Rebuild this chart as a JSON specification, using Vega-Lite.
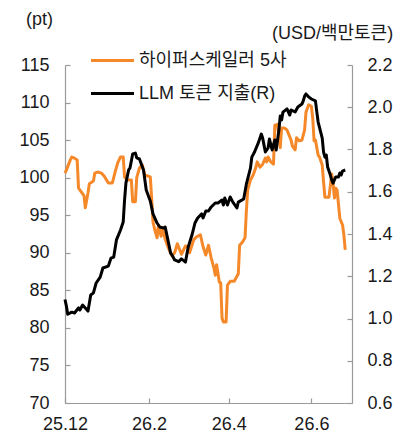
{
  "$schema": "https://vega.github.io/schema/vega-lite/v6.json",
  "width": 287,
  "height": 338,
  "autosize": "none",
  "padding": {"left": 65, "top": 65, "right": 56, "bottom": 33},
  "background": "white",
  "config": {
    "view": {"stroke": null},
    "font": "Liberation Sans, Noto Sans CJK KR",
    "axis": {
      "grid": false,
      "domainColor": "#9a9a9a",
      "tickColor": "#9a9a9a",
      "domainWidth": 1.2,
      "tickWidth": 1.2,
      "tickSize": -5,
      "labelFont": "Liberation Sans, Noto Sans CJK KR",
      "labelFontSize": 18,
      "labelColor": "#1a1a1a",
      "titleFont": "Liberation Sans, Noto Sans CJK KR",
      "titleFontSize": 18,
      "titleFontWeight": "normal",
      "titleColor": "#1a1a1a"
    },
    "legend": {
      "labelFont": "Liberation Sans, Noto Sans CJK KR",
      "labelFontSize": 18,
      "labelColor": "#1a1a1a"
    }
  },
  "datasets": {
    "hyper": [
      {"d":"2025-12-01","v":100.6},{"d":"2025-12-02","v":101.0},{"d":"2025-12-05","v":102.4},{"d":"2025-12-06","v":102.75},
      {"d":"2025-12-08","v":102.6},{"d":"2025-12-10","v":102.35},{"d":"2025-12-11","v":98.6},{"d":"2025-12-13","v":98.1},
      {"d":"2025-12-15","v":97.6},{"d":"2025-12-16","v":96.0},{"d":"2025-12-18","v":98.0},{"d":"2025-12-19","v":99.2},
      {"d":"2025-12-22","v":99.55},{"d":"2025-12-23","v":100.6},{"d":"2025-12-25","v":100.75},{"d":"2025-12-28","v":100.6},
      {"d":"2025-12-30","v":100.2},{"d":"2026-01-02","v":99.3},{"d":"2026-01-05","v":99.3},{"d":"2026-01-07","v":100.75},
      {"d":"2026-01-09","v":102.0},{"d":"2026-01-11","v":102.75},{"d":"2026-01-13","v":102.75},{"d":"2026-01-14","v":100.1},
      {"d":"2026-01-16","v":99.7},{"d":"2026-01-19","v":99.7},{"d":"2026-01-20","v":96.8},{"d":"2026-01-22","v":96.8},
      {"d":"2026-01-23","v":100.0},{"d":"2026-01-25","v":101.3},{"d":"2026-01-27","v":101.7},{"d":"2026-01-29","v":100.35},
      {"d":"2026-02-02","v":100.1},{"d":"2026-02-03","v":97.3},{"d":"2026-02-04","v":94.1},{"d":"2026-02-05","v":93.3},
      {"d":"2026-02-07","v":92.0},{"d":"2026-02-08","v":93.6},{"d":"2026-02-10","v":92.2},{"d":"2026-02-11","v":93.3},
      {"d":"2026-02-13","v":91.8},{"d":"2026-02-15","v":90.8},{"d":"2026-02-18","v":89.6},{"d":"2026-02-20","v":90.0},
      {"d":"2026-02-22","v":91.2},{"d":"2026-02-25","v":89.8},{"d":"2026-02-28","v":90.9},{"d":"2026-03-02","v":90.8},
      {"d":"2026-03-03","v":90.0},{"d":"2026-03-06","v":91.7},{"d":"2026-03-08","v":92.1},{"d":"2026-03-11","v":92.4},
      {"d":"2026-03-13","v":90.8},{"d":"2026-03-15","v":89.7},{"d":"2026-03-17","v":91.0},{"d":"2026-03-19","v":89.3},
      {"d":"2026-03-21","v":88.0},{"d":"2026-03-22","v":87.0},{"d":"2026-03-23","v":88.4},{"d":"2026-03-25","v":86.1},
      {"d":"2026-03-26","v":86.0},{"d":"2026-03-27","v":81.3},{"d":"2026-03-28","v":80.8},{"d":"2026-03-30","v":80.8},
      {"d":"2026-03-31","v":85.7},{"d":"2026-04-02","v":86.2},{"d":"2026-04-05","v":86.2},{"d":"2026-04-08","v":87.2},
      {"d":"2026-04-09","v":91.0},{"d":"2026-04-11","v":91.4},{"d":"2026-04-13","v":92.0},{"d":"2026-04-14","v":95.7},
      {"d":"2026-04-15","v":98.4},{"d":"2026-04-17","v":99.7},{"d":"2026-04-19","v":100.35},{"d":"2026-04-21","v":101.4},
      {"d":"2026-04-22","v":102.1},{"d":"2026-04-24","v":101.4},{"d":"2026-04-26","v":101.8},{"d":"2026-04-28","v":102.6},
      {"d":"2026-04-29","v":102.1},{"d":"2026-04-30","v":102.75},{"d":"2026-05-02","v":102.1},{"d":"2026-05-04","v":101.8},
      {"d":"2026-05-05","v":107.0},{"d":"2026-05-07","v":107.1},{"d":"2026-05-09","v":104.0},{"d":"2026-05-10","v":106.6},
      {"d":"2026-05-12","v":106.6},{"d":"2026-05-14","v":106.35},{"d":"2026-05-17","v":105.0},{"d":"2026-05-18","v":104.2},
      {"d":"2026-05-20","v":103.7},{"d":"2026-05-21","v":105.3},{"d":"2026-05-23","v":104.9},{"d":"2026-05-25","v":105.0},
      {"d":"2026-05-27","v":106.35},{"d":"2026-05-28","v":108.7},{"d":"2026-05-30","v":109.7},{"d":"2026-06-01","v":109.5},
      {"d":"2026-06-02","v":107.9},{"d":"2026-06-03","v":104.9},{"d":"2026-06-04","v":105.0},{"d":"2026-06-06","v":103.0},
      {"d":"2026-06-07","v":102.75},{"d":"2026-06-09","v":101.7},{"d":"2026-06-10","v":99.4},{"d":"2026-06-11","v":97.4},
      {"d":"2026-06-14","v":97.4},{"d":"2026-06-16","v":100.5},{"d":"2026-06-17","v":99.4},{"d":"2026-06-18","v":97.3},
      {"d":"2026-06-19","v":98.6},{"d":"2026-06-20","v":98.35},{"d":"2026-06-22","v":94.6},{"d":"2026-06-24","v":93.7},
      {"d":"2026-06-25","v":92.4},{"d":"2026-06-26","v":90.4}
    ],
    "llm": [
      {"d":"2025-12-01","v":1.09},{"d":"2025-12-02","v":1.06},{"d":"2025-12-03","v":1.02},{"d":"2025-12-06","v":1.03},
      {"d":"2025-12-08","v":1.026},{"d":"2025-12-11","v":1.05},{"d":"2025-12-12","v":1.04},{"d":"2025-12-14","v":1.064},
      {"d":"2025-12-16","v":1.05},{"d":"2025-12-18","v":1.035},{"d":"2025-12-20","v":1.111},{"d":"2025-12-22","v":1.121},
      {"d":"2025-12-24","v":1.168},{"d":"2025-12-27","v":1.196},{"d":"2025-12-29","v":1.239},{"d":"2026-01-02","v":1.248},
      {"d":"2026-01-04","v":1.286},{"d":"2026-01-06","v":1.291},{"d":"2026-01-08","v":1.372},{"d":"2026-01-11","v":1.419},
      {"d":"2026-01-13","v":1.457},{"d":"2026-01-14","v":1.561},{"d":"2026-01-15","v":1.641},{"d":"2026-01-17","v":1.703},
      {"d":"2026-01-18","v":1.712},{"d":"2026-01-20","v":1.779},{"d":"2026-01-22","v":1.783},{"d":"2026-01-23","v":1.76},
      {"d":"2026-01-25","v":1.755},{"d":"2026-01-28","v":1.703},{"d":"2026-01-30","v":1.608},{"d":"2026-02-02","v":1.556},
      {"d":"2026-02-04","v":1.495},{"d":"2026-02-07","v":1.452},{"d":"2026-02-09","v":1.433},{"d":"2026-02-12","v":1.428},
      {"d":"2026-02-13","v":1.433},{"d":"2026-02-15","v":1.372},{"d":"2026-02-17","v":1.31},{"d":"2026-02-18","v":1.301},
      {"d":"2026-02-20","v":1.277},{"d":"2026-02-23","v":1.269},{"d":"2026-02-25","v":1.282},{"d":"2026-02-28","v":1.267},
      {"d":"2026-03-02","v":1.338},{"d":"2026-03-05","v":1.4},{"d":"2026-03-07","v":1.452},{"d":"2026-03-09","v":1.476},
      {"d":"2026-03-12","v":1.495},{"d":"2026-03-13","v":1.476},{"d":"2026-03-15","v":1.509},{"d":"2026-03-17","v":1.509},
      {"d":"2026-03-19","v":1.528},{"d":"2026-03-22","v":1.547},{"d":"2026-03-24","v":1.547},{"d":"2026-03-27","v":1.561},
      {"d":"2026-03-28","v":1.537},{"d":"2026-03-29","v":1.57},{"d":"2026-03-31","v":1.537},{"d":"2026-04-02","v":1.575},
      {"d":"2026-04-04","v":1.551},{"d":"2026-04-07","v":1.523},{"d":"2026-04-08","v":1.551},{"d":"2026-04-12","v":1.566},
      {"d":"2026-04-14","v":1.637},{"d":"2026-04-17","v":1.712},{"d":"2026-04-18","v":1.764},{"d":"2026-04-20","v":1.788},
      {"d":"2026-04-23","v":1.835},{"d":"2026-04-25","v":1.873},{"d":"2026-04-26","v":1.854},{"d":"2026-04-28","v":1.788},
      {"d":"2026-04-30","v":1.807},{"d":"2026-05-01","v":1.85},{"d":"2026-05-03","v":1.798},{"d":"2026-05-05","v":1.845},
      {"d":"2026-05-06","v":1.798},{"d":"2026-05-08","v":1.892},{"d":"2026-05-09","v":1.959},{"d":"2026-05-10","v":1.94},
      {"d":"2026-05-11","v":1.977},{"d":"2026-05-14","v":1.992},{"d":"2026-05-16","v":1.963},{"d":"2026-05-17","v":1.987},
      {"d":"2026-05-20","v":1.978},{"d":"2026-05-22","v":2.001},{"d":"2026-05-25","v":2.015},{"d":"2026-05-26","v":2.03},
      {"d":"2026-05-27","v":2.053},{"d":"2026-05-28","v":2.063},{"d":"2026-05-30","v":2.049},{"d":"2026-06-01","v":2.039},
      {"d":"2026-06-04","v":2.03},{"d":"2026-06-05","v":1.978},{"d":"2026-06-06","v":1.93},{"d":"2026-06-09","v":1.854},
      {"d":"2026-06-10","v":1.788},{"d":"2026-06-11","v":1.764},{"d":"2026-06-12","v":1.774},{"d":"2026-06-13","v":1.717},
      {"d":"2026-06-15","v":1.679},{"d":"2026-06-16","v":1.656},{"d":"2026-06-17","v":1.641},{"d":"2026-06-18","v":1.656},
      {"d":"2026-06-19","v":1.67},{"d":"2026-06-21","v":1.67},{"d":"2026-06-22","v":1.689},{"d":"2026-06-23","v":1.679},
      {"d":"2026-06-24","v":1.698},{"d":"2026-06-26","v":1.703}
    ]
  },
  "layer": [
    {
      "data": {"name": "hyper"},
      "mark": {"type": "line", "strokeWidth": 3, "strokeJoin": "round"},
      "encoding": {
        "x": {
          "field": "d", "type": "temporal",
          "scale": {"type": "utc", "domain": [{"year": 2025, "month": 12, "date": 1, "utc": true}, {"year": 2026, "month": 7, "date": 1, "utc": true}]},
          "axis": {
            "title": null,
            "format": "%y.%-m",
            "values": [
              {"year": 2025, "month": 12, "date": 1, "utc": true},
              {"year": 2026, "month": 2, "date": 1, "utc": true},
              {"year": 2026, "month": 4, "date": 1, "utc": true},
              {"year": 2026, "month": 6, "date": 1, "utc": true}
            ],
            "labelPadding": 17,
            "labelFlush": false,
            "labelOverlap": false
          }
        },
        "y": {
          "field": "v", "type": "quantitative",
          "scale": {"domain": [70, 115], "nice": false, "zero": false},
          "axis": {
            "orient": "left",
            "values": [70, 75, 80, 85, 90, 95, 100, 105, 110, 115],
            "labelPadding": 21,
            "title": "(pt)",
            "titleAngle": 0,
            "titleAlign": "center",
            "titleBaseline": "middle",
            "titleX": -26,
            "titleY": -46
          }
        },
        "color": {
          "datum": "하이퍼스케일러 5사",
          "scale": {"domain": ["하이퍼스케일러 5사", "LLM 토큰 지출(R)"], "range": ["#F5892A", "#000000"]},
          "legend": {
            "title": null,
            "orient": "none",
            "legendX": 24,
            "legendY": -28,
            "symbolType": "stroke",
            "symbolSize": 1850,
            "symbolStrokeWidth": 3,
            "labelOffset": 3,
            "rowPadding": -19,
            "padding": 0
          }
        }
      }
    },
    {
      "data": {"name": "llm"},
      "mark": {"type": "line", "strokeWidth": 3, "strokeJoin": "round"},
      "encoding": {
        "x": {"field": "d", "type": "temporal"},
        "y": {
          "field": "v", "type": "quantitative",
          "scale": {"domain": [0.6, 2.2], "nice": false, "zero": false},
          "axis": {
            "orient": "right",
            "values": [0.6, 0.8, 1.0, 1.2, 1.4, 1.6, 1.8, 2.0, 2.2],
            "format": ".1f",
            "labelPadding": 20,
            "title": "(USD/백만토큰)",
            "titleAngle": 0,
            "titleAlign": "center",
            "titleBaseline": "middle",
            "titleX": -20,
            "titleY": -32
          }
        },
        "color": {"datum": "LLM 토큰 지출(R)"}
      }
    }
  ],
  "resolve": {"scale": {"y": "independent"}}
}
